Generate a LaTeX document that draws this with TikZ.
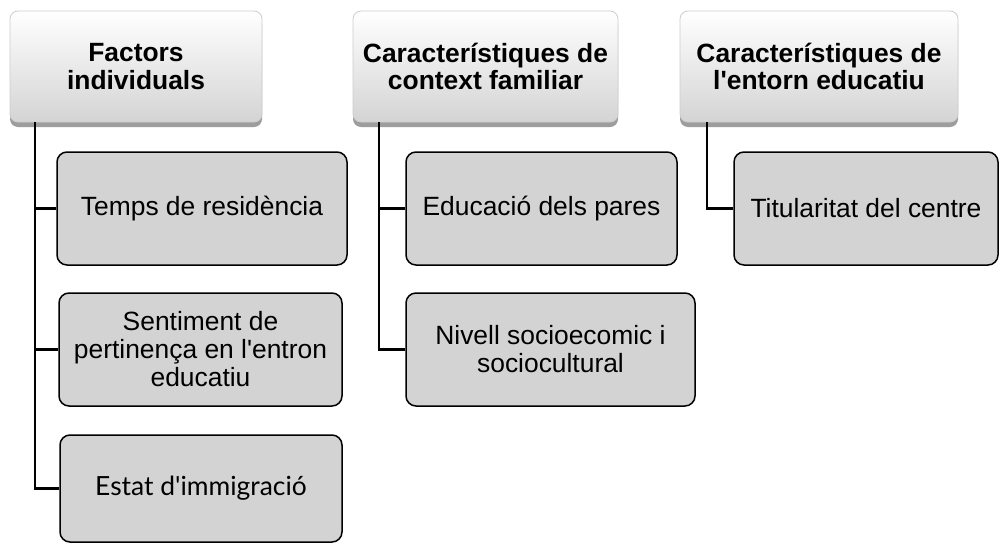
\documentclass[tikz,border=0pt]{standalone}
\usepackage{fontspec}
\setmainfont{Liberation Sans}
\newfontfamily\gillfont{Lato}
\usetikzlibrary{positioning,shadows}

\definecolor{boxgray}{RGB}{211,211,211}
\definecolor{headgray}{RGB}{212,212,212}
\definecolor{rimgray}{RGB}{205,205,205}

\begin{document}
\begin{tikzpicture}[
    x=1pt, y=-1pt,
    header/.style={rectangle, rounded corners=8pt, draw=rimgray, line width=0.8pt,
        top color=white, bottom color=headgray, inner sep=0pt, align=center,
        minimum height=111pt, font=\fontsize{26.4}{27.5}\selectfont\bfseries,
        drop shadow={shadow xshift=0pt, shadow yshift=-5pt, opacity=0.55, fill=black!70}},
    item/.style={rectangle, rounded corners=10pt, draw=black, line width=1.5pt,
        fill=boxgray, inner sep=0pt, align=center,
        minimum height=113pt, font=\fontsize{26.4}{28}\selectfont},
    tree/.style={line width=2.2pt, draw=black}
]
    \useasboundingbox (0,0) rectangle (1000,544);

    % headers
    \node[header, minimum width=252pt] (indiv) at (136,66.5) {Factors\\individuals};
    \node[header, minimum width=265pt] (famil) at (485.5,66.5) {Característiques de\\context familiar};
    \node[header, minimum width=278pt] (entorn) at (819,66.5) {Característiques de\\l\textquotesingle entorn educatiu};

    % items
    \node[item, minimum width=290pt] (temps) at (202,208.5) {Temps de residència};
    \node[item, minimum width=283pt] (sentim) at (200.5,349.5) {Sentiment de\\pertinença en l\textquotesingle entron\\educatiu};
    \node[item, minimum width=282pt, minimum height=107pt] (estat) at (201,488.5) {\gillfont Estat d\textquotesingle immigració};
    \node[item, minimum width=271pt] (educ) at (541.5,208.5) {Educació dels pares};
    \node[item, minimum width=289pt] (nivell) at (550.5,349.5) {Nivell socioecomic i\\sociocultural};
    \node[item, minimum width=264pt] (titul) at (866,208.5) {Titularitat del centre};

    % connectors
    \draw[tree] ([xshift=25pt]indiv.south west) |- (temps.west);
    \draw[tree] ([xshift=25pt]indiv.south west) |- (sentim.west);
    \draw[tree] ([xshift=25pt]indiv.south west) |- (estat.west);
    \draw[tree] ([xshift=26pt]famil.south west) |- (educ.west);
    \draw[tree] ([xshift=26pt]famil.south west) |- (nivell.west);
    \draw[tree] ([xshift=27pt]entorn.south west) |- (titul.west);
\end{tikzpicture}
\end{document}
